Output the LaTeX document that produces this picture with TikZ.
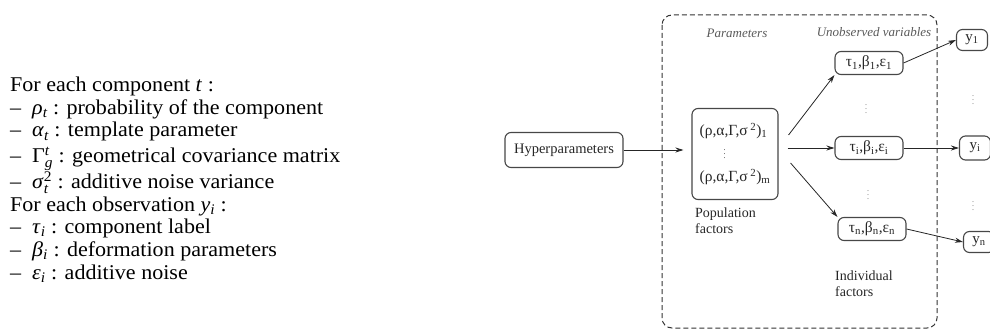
\documentclass[tikz,border=0pt]{standalone}
\usepackage{amsmath}
\usepackage[no-math]{fontspec}
\setmainfont{Liberation Serif}
\newfontfamily\listfont[FakeStretch=1.05]{Liberation Serif}
\usetikzlibrary{arrows.meta}

% italic letter with italic sub/superscripts
\newcommand{\vsub}[2]{\textit{#1}$_{\text{\itshape #2}}$}
\newcommand{\vsubsup}[3]{#1$^{\smash{\text{#3}}}_{\smash{\text{\itshape #2}}}$}

\begin{document}
\begin{tikzpicture}[x=1pt,y=-1pt,
    box/.style={draw=black!72,line width=1.1pt,rounded corners=6pt,text=black!85,inner sep=2pt},
    ybox/.style={box,minimum width=31pt,minimum height=21pt,font=\fontsize{15}{17}\selectfont},
    tbox/.style={box,minimum width=68pt,minimum height=23pt,font=\fontsize{15.5}{17}\selectfont},
    arr/.style={-{Stealth[length=8pt,width=5pt]},line width=0.8pt,black!85},
    lbl/.style={font=\fontsize{13}{15}\selectfont\itshape,text=black!65},
    dotsnode/.style={font=\fontsize{8}{8}\selectfont,text=black!60,inner sep=0pt}]

    \useasboundingbox (0,0) rectangle (990,334);

    % list of the variables
    \node [anchor=north west,align=left,inner sep=0pt,font=\listfont\fontsize{21}{22.6}\selectfont] (legend) at (10,77)
    {For each component \textit{t} :\\
     –\ \ \vsub{ρ}{t} : probability of the component\\
     –\ \ \vsub{α}{t} : template parameter\\[3pt]
     –\ \ \vsubsup{Γ}{g}{\itshape t} : geometrical covariance matrix\\[3.5pt]
     –\ \ \vsubsup{\textit{σ}}{t}{2} : additive noise variance\\
     For each observation \vsub{y}{i} :\\
     –\ \ \vsub{τ}{i} : component label\\
     –\ \ \vsub{β}{i} : deformation parameters\\
     –\ \ \vsub{ε}{i} : additive noise};

    \begin{scope}[font=\fontsize{14}{16}\selectfont]

    \draw [black!80,line width=1pt,dash pattern=on 5pt off 3pt,rounded corners=10pt] (662,15) rectangle (937,328);

    \node [lbl] (parlbl) at (737,33) {Parameters};
    \node [lbl] (unoblbl) at (874,32) {Unobserved variables};

    \node [box,minimum width=118pt,minimum height=35pt,font=\fontsize{14.5}{16}\selectfont] (hyp) at (564,150) {Hyperparameters};

    \node [box,align=left,minimum width=86pt,minimum height=91pt,inner sep=1pt,font=\fontsize{15.5}{23}\selectfont] (pop) at (735,154)
    {(ρ,α,Γ,σ\,\textsuperscript{2})\textsubscript{1}\\
     \hspace{24pt}{\fontsize{8}{8}\selectfont$\vdots$}\\
     (ρ,α,Γ,σ\,\textsuperscript{2})\textsubscript{m}};
    \node [anchor=north west,align=left,inner sep=0pt,text=black!85] (poplbl) at (695,208) {Population\\factors};

    \node [tbox] (t1) at (869,63) {τ\textsubscript{1},β\textsubscript{1},ε\textsubscript{1}};
    \node [tbox] (ti) at (869,148) {τ\textsubscript{i},β\textsubscript{i},ε\textsubscript{i}};
    \node [tbox] (tn) at (872,229) {τ\textsubscript{n},β\textsubscript{n},ε\textsubscript{n}};
    \node [dotsnode] (tdots1) at (866,106) {$\vdots$};
    \node [dotsnode] (tdots2) at (868,192) {$\vdots$};
    \node [anchor=north west,align=left,inner sep=0pt,text=black!85] (indlbl) at (835,271) {Individual\\factors};

    \node [ybox] (y1) at (972,40) {y\textsubscript{1}};
    \node [ybox,minimum height=24pt] (yi) at (975,148) {y\textsubscript{i}};
    \node [ybox] (yn) at (979,242) {y\textsubscript{n}};
    \node [dotsnode] (ydots1) at (973,97) {$\vdots$};
    \node [dotsnode] (ydots2) at (973,203) {$\vdots$};

    \draw [arr,shorten >=8pt] (hyp.east) -- (hyp.east -| pop.west);
    \draw [arr] ([shift={(10,-19)}]pop.east) -- (t1.south west);
    \draw [arr] ([shift={(9,-6)}]pop.east) -- (ti.west);
    \draw [arr] ([shift={(12,9)}]pop.east) -- (tn.north west);

    \draw [arr] (t1.east) -- (y1.west);
    \draw [arr] (ti.east) -- (yi.west);
    \draw [arr] (tn.east) -- (yn.west);

    \end{scope}
\end{tikzpicture}
\end{document}
